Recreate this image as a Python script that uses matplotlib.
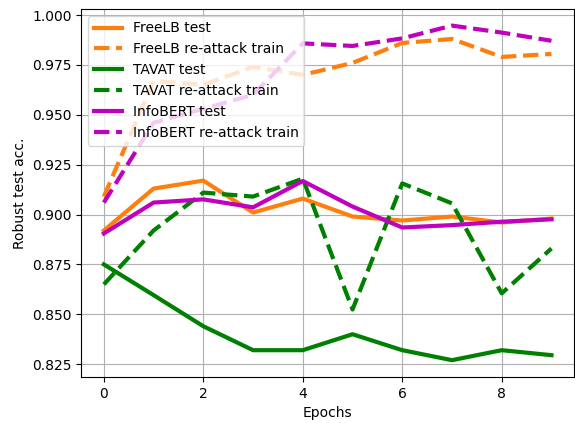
import matplotlib
matplotlib.use("Agg")
import matplotlib.pyplot as plt

epochs = list(range(10))

freelb_test = [0.892, 0.913, 0.917, 0.901, 0.908, 0.899, 0.897, 0.899, 0.896, 0.898]
freelb_reattack = [0.909, 0.967, 0.965, 0.974, 0.970, 0.976, 0.986, 0.988, 0.979, 0.9805]
tavat_test = [0.875, 0.8596, 0.844, 0.832, 0.832, 0.840, 0.832, 0.827, 0.832, 0.8295]
tavat_reattack = [0.865, 0.892, 0.911, 0.909, 0.918, 0.8524, 0.9156, 0.9056, 0.8605, 0.883]
infobert_test = [0.8905, 0.906, 0.9076, 0.9036, 0.9168, 0.904, 0.8935, 0.8947, 0.8964, 0.8976]
infobert_reattack = [0.906, 0.946, 0.953, 0.960, 0.9858, 0.9845, 0.9883, 0.9947, 0.9912, 0.9871]

fig, ax = plt.subplots(figsize=(5.75, 4.23), dpi=100)

ax.plot(epochs, freelb_test, color='tab:orange', lw=3, label='FreeLB test')
ax.plot(epochs, freelb_reattack, color='tab:orange', lw=3, ls='--', label='FreeLB re-attack train')
ax.plot(epochs, tavat_test, color='g', lw=3, label='TAVAT test')
ax.plot(epochs, tavat_reattack, color='g', lw=3, ls='--', label='TAVAT re-attack train')
ax.plot(epochs, infobert_test, color='m', lw=3, label='InfoBERT test')
ax.plot(epochs, infobert_reattack, color='m', lw=3, ls='--', label='InfoBERT re-attack train')

ax.set_xlabel('Epochs')
ax.set_ylabel('Robust test acc.')
ax.grid(True)
ax.legend(loc='upper left')

fig.subplots_adjust(left=0.1417, right=0.998, top=0.979, bottom=0.109)
fig.savefig('out.png')
